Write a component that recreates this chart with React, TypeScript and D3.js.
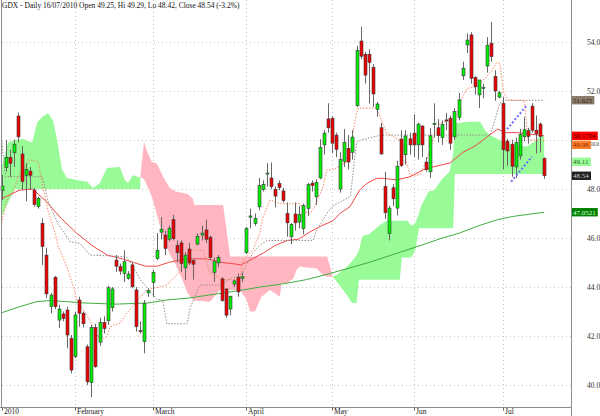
import React from 'react';
import * as d3 from 'd3';

const W = 600;
const H = 416;

// ---- Daily OHLC, GDX, 5 Jan 2010 .. 16 Jul 2010 (bar index 0..133) ----
const openP = [
  47.93, 48.88, 49.29, 49.48, 50.98, 49.43, 48.56, 48.73, 47.96, 47.28,
  46.6, 45.3, 43.2, 44.4, 42.65, 42.9, 43.06, 41.9, 41.16, 43.47,
  42.93, 41.56, 40.1, 42.35, 41.75, 42.55, 42.62, 43.16, 45.1, 44.83,
  44.56, 44.35, 44.9, 43.88, 42.22, 41.77, 43.76, 44.19, 45.16, 46.24,
  46.12, 45.95, 46.75, 45.7, 45.8, 44.78, 45.55, 45.08, 45.75, 46.12,
  46.33, 46.03, 44.6, 44.98, 44.33, 43.92, 43.1, 44.12, 44.4, 44.35,
  45.4, 46.85, 46.6, 47.27, 47.98, 48.62, 48.45, 47.98, 48.22, 47.92,
  47.0, 46.05, 46.98, 46.65, 46.38, 47.2, 48.24, 47.68, 48.45, 49.8,
  50.86, 50.89, 50.2, 48.0, 49.12, 49.66, 49.5, 51.4, 54.04, 53.5,
  53.5, 52.96, 51.25, 50.5, 48.1, 46.18, 48.05, 47.22, 50.04, 49.4,
  50.05, 50.28, 49.8, 50.57, 49.1, 48.7, 50.65, 50.5, 50.1, 50.82,
  50.89, 50.13, 50.92, 52.62, 53.88, 54.29, 52.55, 51.84, 52.1, 53.02,
  53.95, 52.6, 51.75, 51.5, 49.95, 49.83, 48.9, 49.35, 50.13, 50.38,
  51.38, 50.4, 50.65, 49.25,
];
const highP = [
  48.57, 50.0, 49.6, 50.02, 51.12, 49.75, 49.05, 48.9, 48.03, 47.69,
  46.8, 45.6, 43.75, 44.45, 43.27, 43.0, 43.2, 42.04, 43.0, 43.6,
  43.0, 41.65, 42.45, 42.5, 42.75, 42.8, 44.05, 44.0, 45.3, 44.95,
  45.5, 44.65, 45.0, 44.0, 42.6, 43.47, 43.95, 44.7, 46.2, 46.85,
  46.3, 46.5, 46.95, 45.9, 45.9, 45.43, 45.8, 45.15, 46.2, 46.5,
  46.75, 46.1, 45.2, 45.3, 44.4, 43.95, 43.65, 44.3, 44.55, 44.6,
  46.45, 47.2, 47.0, 48.45, 48.35, 49.05, 49.08, 48.1, 48.35, 48.05,
  47.45, 46.6, 47.45, 47.3, 47.4, 48.25, 48.35, 48.4, 50.03, 50.4,
  51.5, 50.97, 50.3, 49.5, 50.45, 50.2, 50.4, 53.85, 54.62, 53.6,
  53.7, 53.1, 51.55, 50.7, 48.7, 47.32, 48.2, 49.15, 50.4, 50.4,
  50.3, 51.05, 50.7, 50.6, 49.3, 50.5, 51.5, 50.85, 50.8, 51.1,
  51.0, 51.3, 51.92, 53.2, 54.35, 54.4, 52.6, 52.45, 52.3, 54.2,
  54.82, 52.85, 52.0, 51.75, 50.05, 50.0, 50.1, 50.45, 50.95, 50.5,
  51.5, 51.0, 50.72, 49.29,
];
const lowP = [
  47.55, 48.71, 48.5, 48.9, 49.9, 47.96, 47.5, 47.96, 47.28, 47.2,
  44.9, 43.55, 42.93, 43.1, 42.32, 42.6, 41.5, 40.48, 41.1, 42.38,
  42.35, 40.0, 39.5, 40.7, 41.6, 42.1, 42.45, 43.0, 44.62, 44.5,
  44.2, 44.3, 43.95, 42.18, 42.1, 41.29, 43.6, 43.6, 45.1, 45.95,
  45.3, 45.85, 45.9, 45.0, 44.62, 44.28, 44.9, 44.3, 45.7, 45.9,
  45.8, 45.1, 44.2, 44.8, 43.4, 42.75, 42.85, 44.0, 43.6, 44.2,
  45.35, 46.4, 46.5, 47.13, 47.9, 48.1, 48.0, 47.25, 47.95, 47.45,
  46.05, 45.75, 46.3, 46.4, 46.15, 46.9, 47.9, 47.35, 48.4, 49.4,
  50.3, 49.46, 49.3, 47.85, 48.9, 48.8, 49.2, 51.35, 53.3, 52.3,
  51.5, 51.35, 50.95, 49.4, 46.78, 45.9, 47.3, 46.92, 48.9, 49.0,
  49.4, 49.3, 49.2, 49.3, 48.7, 48.45, 50.1, 49.9, 49.8, 50.4,
  49.6, 50.0, 50.8, 52.45, 53.55, 52.3, 51.85, 51.3, 51.7, 52.75,
  53.2, 51.6, 51.7, 48.8, 48.95, 48.5, 48.45, 49.2, 49.95, 49.85,
  50.3, 49.45, 49.5, 48.42,
];
const closeP = [
  48.12, 49.29, 49.05, 49.83, 50.13, 48.3, 48.8, 48.56, 47.37, 47.62,
  45.65, 43.72, 43.67, 43.2, 43.1, 42.72, 42.04, 40.61, 42.86, 42.93,
  42.5, 40.13, 42.35, 40.75, 42.55, 42.3, 43.97, 43.92, 44.85, 44.65,
  45.03, 44.53, 44.01, 42.38, 42.2, 43.33, 43.85, 44.6, 45.5, 46.36,
  45.57, 46.4, 45.97, 45.4, 44.96, 45.3, 44.98, 44.93, 46.07, 46.2,
  45.95, 45.2, 45.03, 45.2, 43.45, 42.85, 43.62, 44.25, 43.8, 44.42,
  46.38, 46.9, 46.8, 48.14, 48.18, 48.65, 48.1, 47.71, 48.06, 47.53,
  46.62, 46.55, 46.62, 46.96, 47.32, 48.18, 48.14, 48.27, 49.7, 50.28,
  50.5, 49.87, 49.62, 49.2, 49.9, 49.1, 50.12, 53.65, 53.42, 52.65,
  53.16, 51.88, 51.47, 49.43, 47.03, 47.22, 47.6, 48.93, 48.96, 50.16,
  49.8, 49.8, 50.65, 49.8, 48.8, 50.17, 50.68, 50.18, 50.63, 50.78,
  49.87, 51.16, 51.64, 52.93, 54.08, 52.52, 52.17, 52.45, 52.15, 53.87,
  53.4, 52.0, 51.93, 49.6, 49.55, 48.93, 49.9, 50.22, 50.42, 50.15,
  50.4, 50.25, 50.15, 48.54,
];

// ---- Ichimoku cloud (bar index, upper, lower) ----
const cloud1Idx = [0, 1.6, 3.3, 5.2, 7.5, 8.7, 9.9, 11.4, 12.6, 13.6, 14.8, 16, 18.5, 21, 22.4, 24.1, 25.8, 29, 30.2, 31, 32.2, 33.4, 34];
const cloud1Top = [48.9, 49.9, 50.0, 50.04, 49.9, 50.7, 50.94, 51.1, 50.8, 50.0, 48.8, 48.45, 48.37, 48.3, 48.04, 48.24, 48.86, 48.9, 48.37, 48.24, 48.57, 48.49, 48.5];
const cloud1Bot = [46.87, 47.45, 48.0, 48.0, 48.0, 48.0, 48.0, 48.0, 48.0, 48.0, 48.0, 48.0, 48.0, 48.0, 48.0, 48.0, 48.0, 48.0, 48.0, 48.0, 48.0, 48.0, 48.0];

const cloud2Idx = [34, 34.9, 35.5, 36.8, 38, 39.6, 41.2, 42.7, 44.2, 45.6, 46.9, 47.2, 51.1, 53.5, 54.3, 55, 56, 58.4, 60.1, 60.9, 62.1, 63.7, 65.8, 68.2, 68.6, 69.9, 71.5, 72.3, 73.1, 77.2, 78.8, 79.8, 81.2];
const cloud2Top = [48.5, 49.93, 49.6, 49.1, 49.05, 48.5, 48.04, 47.9, 47.85, 47.8, 47.6, 47.35, 47.35, 47.35, 47.35, 46.5, 45.24, 45.24, 45.24, 45.24, 45.24, 45.24, 45.24, 45.24, 45.24, 45.24, 45.24, 45.24, 45.24, 45.24, 45.24, 45.24, 44.42];
const cloud2Bot = [48.5, 48.4, 48.2, 47.7, 47.0, 46.0, 45.35, 44.9, 44.35, 43.74, 43.47, 43.45, 43.4, 43.88, 43.88, 43.88, 43.88, 43.88, 43.47, 43.0, 43.0, 43.6, 43.88, 43.6, 44.15, 44.15, 44.35, 44.7, 44.83, 44.76, 44.49, 44.42, 44.42];

const cloud3Idx = [81.2, 82.2, 84.5, 85.9, 87.0, 87.6, 88.3, 88.7, 90.1, 92.5, 94.3, 97.6, 98.1, 99.5, 100.4, 101.4, 102.3, 102.8, 104.7, 106.1, 107.9, 109.8, 110.7, 111.1, 114.8, 117.3, 118.5, 119.7, 122, 125, 128.7, 131.2, 131.9, 133];
const cloud3Top = [44.42, 44.5, 44.8, 45.05, 45.3, 45.5, 46.0, 46.1, 46.15, 46.5, 46.7, 46.7, 46.7, 46.7, 46.5, 46.6, 47.0, 47.3, 47.9, 47.95, 48.4, 48.7, 49.45, 50.68, 50.75, 50.75, 50.4, 50.2, 50.0, 49.8, 49.73, 50.0, 50.13, 50.15];
const cloud3Bot = [44.42, 44.2, 43.7, 43.35, 43.35, 44.3, 44.3, 44.3, 44.3, 44.3, 44.3, 44.3, 45.2, 45.2, 45.2, 45.5, 46.4, 46.4, 46.4, 46.4, 46.4, 46.4, 46.4, 48.61, 48.61, 48.61, 48.61, 48.61, 48.61, 48.61, 48.61, 48.61, 48.61, 48.61];

// ---- Moving averages (bar index, value) ----
const redMaIdx = [0, 4.3, 7.6, 10.9, 14.6, 18.4, 22.1, 25.9, 29.6, 32.4, 35.3, 38.1, 40.9, 43.7, 46.5, 50.3, 54, 56.8, 58.7, 61.5, 64.3, 67.1, 70, 72.8, 75.6, 78.4, 81.2, 82.9, 85.4, 87.8, 89.5, 91.9, 93.5, 96.8, 100.1, 103.3, 105.7, 109.9, 113.1, 116, 118.8, 121.6, 123.4, 126.3, 129.1, 133];
const redMaVal = [47.6, 47.95, 48.0, 47.5, 46.8, 46.2, 45.7, 45.3, 45.15, 45.0, 44.85, 44.85, 45.0, 45.1, 45.15, 45.15, 45.0, 44.95, 44.9, 45.15, 45.4, 45.7, 45.9, 45.95, 46.25, 46.5, 46.7, 47.0, 47.28, 47.96, 48.23, 48.43, 48.44, 48.37, 48.5, 48.78, 48.9, 49.06, 49.5, 49.75, 50.1, 50.45, 50.3, 50.3, 50.25, 50.17];
const greenMaIdx = [0, 4.5, 8.6, 12, 16, 20, 28, 36, 40.5, 45.4, 52, 58, 63.4, 69, 74.7, 80.3, 90, 102.8, 107.5, 112.2, 116.9, 121.6, 125.3, 133];
const greenMaVal = [42.95, 43.2, 43.4, 43.45, 43.4, 43.35, 43.3, 43.35, 43.47, 43.54, 43.7, 43.85, 44.0, 44.13, 44.3, 44.54, 45.0, 45.7, 45.97, 46.2, 46.5, 46.75, 46.88, 47.05];

// ---- Tenkan / Kijun (dotted) ----
const tenkanIdx = [0, 1.2, 2.9, 4.1, 6.9, 9, 10.2, 11.4, 13.1, 13.9, 16, 17.6, 18.4, 20, 20.9, 23.3, 24.1, 25.8, 26.6, 29, 30.7, 33, 35.6, 40.5, 43.5, 45, 46.5, 49.4, 51, 54.3, 58.4, 59.2, 61.6, 63.3, 64.1, 65.8, 68.2, 73.1, 74.4, 75.6, 76.5, 78.8, 79.7, 81.2, 85.4, 86.2, 87, 87.4, 91.9, 94.4, 95.2, 97.6, 98.4, 99.3, 100.1, 102.5, 103.3, 104.2, 105.7, 107.5, 109.9, 111.5, 112.3, 114, 116.5, 120, 121.3, 122.1, 122.6, 123, 124, 128.2, 129, 133];
const tenkanVal = [46.6, 47.5, 47.9, 48.5, 49.2, 49.1, 48.0, 47.1, 46.2, 45.65, 44.83, 44.0, 43.47, 43.06, 42.86, 42.1, 41.84, 41.97, 42.38, 42.52, 42.93, 43.4, 43.88, 44.08, 44.6, 45.3, 45.5, 45.5, 44.6, 44.3, 44.3, 45.1, 45.5, 46.2, 46.86, 47.55, 47.4, 47.4, 47.06, 47.0, 47.2, 48.08, 48.78, 48.78, 49.18, 50.4, 51.1, 51.3, 51.3, 50.27, 50.2, 50.0, 49.73, 49.05, 48.57, 48.57, 48.86, 49.18, 50.0, 50.7, 50.8, 50.95, 51.5, 52.1, 52.18, 52.79, 53.16, 53.13, 52.52, 51.97, 51.63, 51.6, 50.0, 49.98];
const kijunIdx = [0, 1, 10, 11.4, 13.9, 16.8, 19.2, 21.7, 30.5, 32, 34, 36, 38, 39.5, 40.5, 45.5, 46.2, 48.6, 53.5, 56.7, 58.4, 59.7, 61.6, 63.3, 65.1, 76.3, 77.3, 79.7, 81.2, 85.5, 87, 88, 93, 119.7, 120.9, 122.1, 123, 133];
const kijunVal = [50.0, 48.5, 48.5, 47.5, 46.55, 45.85, 45.78, 45.3, 45.24, 44.9, 44.3, 43.9, 43.5, 43.47, 42.5, 42.5, 43.14, 44.08, 44.08, 44.4, 44.4, 44.8, 45.4, 45.7, 45.9, 45.9, 46.33, 47.0, 47.3, 47.7, 49.9, 50.0, 50.2, 50.2, 50.8, 51.5, 51.62, 51.62];

// ---- Drawn channel (blue dashed) ----
const channelUpper = [[123.9, 50.44], [128.8, 51.43]];
const channelLower = [[124.9, 48.3], [130.0, 49.32]];

// ---- Axes ----
const monthIdx = [0, 18, 37, 60, 81, 101, 123];
const monthLabels = ['2010', 'February', 'March', 'April', 'May', 'Jun', 'Jul'];
const priceTicks = [40, 42, 44, 46, 48, 50, 52, 54];

const lastLabels = [
  { v: 51.625, text: '51.625', bg: '#8b7d6b', fg: '#2a2218' },
  { v: 50.1704, text: '50.1704', bg: '#ff0000', fg: '#500000' },
  { v: 49.98, text: '49.98', bg: '#ff7f2a', fg: '#8a2a00' },
  { v: 49.11, text: '49.11', bg: '#98fb98', fg: '#2a6a2a' },
  { v: 48.54, text: '48.54', bg: '#202020', fg: '#cfcfcf' },
  { v: 47.0521, text: '47.0521', bg: '#008000', fg: '#d8ffd8' },
];

const title = 'GDX - Daily 16/07/2010 Open 49.25, Hi 49.29, Lo 48.42, Close 48.54 (-3.2%)';

const FONT = "'Liberation Serif', 'Times New Roman', serif";

export default function App() {
  const x = d3.scaleLinear().domain([0, 133]).range([1.6, 544.2]);
  const y = d3.scaleLinear().domain([40, 54]).range([385, 42]);
  const axisX = 571.5;
  const axisY = 407.5;

  const areaOf = (idx: number[], top: number[], bot: number[]) =>
    d3.area<number>()
      .x((_, k) => x(idx[k]))
      .y0((_, k) => y(bot[k]))
      .y1((_, k) => y(top[k]))(idx) || '';

  const lineOf = (idx: number[], val: number[]) =>
    d3.line<number>().x((_, k) => x(idx[k])).y((_, k) => y(val[k]))(idx) || '';

  const pairLine = (pts: number[][]) =>
    d3.line<number[]>().x((p) => x(p[0])).y((p) => y(p[1]))(pts) || '';

  const boxH = 8.4;
  const boxes: { cy: number; l: typeof lastLabels[0] }[] = [];
  let prevBottom = -Infinity;
  lastLabels.forEach((l) => {
    let cy = y(l.v);
    if (cy - boxH / 2 < prevBottom + 0.6) cy = prevBottom + 0.6 + boxH / 2;
    prevBottom = cy + boxH / 2;
    boxes.push({ cy, l });
  });

  return (
    <svg width={W} height={H} style={{ position: 'absolute', left: 0, top: 0, background: '#fff' }}
      fontFamily={FONT}>
      <rect x={0} y={0} width={W} height={H} fill="#fff" />
      {priceTicks.map((t) => (
        <line key={'h' + t} x1={2} x2={axisX} y1={Math.round(y(t)) + 0.5} y2={Math.round(y(t)) + 0.5}
          stroke="#c4c4c4" strokeWidth={1} strokeDasharray="1 3" />
      ))}
      {monthIdx.slice(1).map((m) => (
        <line key={'v' + m} x1={Math.round(x(m)) + 0.5} x2={Math.round(x(m)) + 0.5} y1={0} y2={axisY}
          stroke="#c4c4c4" strokeWidth={1} strokeDasharray="1 3" />
      ))}

      <path d={areaOf(cloud1Idx, cloud1Top, cloud1Bot)} fill="#98fb98" />
      <path d={areaOf(cloud2Idx, cloud2Top, cloud2Bot)} fill="#ffb6c1" />
      <path d={areaOf(cloud3Idx, cloud3Top, cloud3Bot)} fill="#98fb98" />

      <path d={lineOf(greenMaIdx, greenMaVal)} fill="none" stroke="#3fae3f" strokeWidth={1} />
      <path d={lineOf(redMaIdx, redMaVal)} fill="none" stroke="#f04848" strokeWidth={1} />

      <path d={lineOf(kijunIdx, kijunVal)} fill="none" stroke="#9a8f86" strokeWidth={1} strokeDasharray="1.5 1.5" />
      <path d={lineOf(tenkanIdx, tenkanVal)} fill="none" stroke="#f58a64" strokeWidth={1} strokeDasharray="1.5 1.5" />

      {closeP.map((c, i) => {
        const o = openP[i];
        const cx = Math.round(x(i)) + 0.5;
        const up = c >= o;
        const top = y(Math.max(o, c));
        const bot = y(Math.min(o, c));
        return (
          <g key={'c' + i}>
            <line x1={cx} x2={cx} y1={y(highP[i])} y2={y(lowP[i])} stroke="#666" strokeWidth={1} />
            <rect x={cx - 1.5} y={top} width={3} height={Math.max(1, bot - top)}
              fill={up ? '#00ee00' : '#ee0000'} stroke="#3a3a3a" strokeWidth={0.6} />
          </g>
        );
      })}

      <path d={pairLine(channelUpper)} stroke="#6a6aff" strokeWidth={2} strokeDasharray="2 2" fill="none" />
      <path d={pairLine(channelLower)} stroke="#6a6aff" strokeWidth={2} strokeDasharray="2 2" fill="none" />

      <line x1={1.5} x2={1.5} y1={0} y2={axisY} stroke="#8c8c8c" strokeWidth={1} />
      <line x1={0} x2={axisX} y1={axisY} y2={axisY} stroke="#8c8c8c" strokeWidth={1} />
      <line x1={axisX} x2={axisX} y1={0} y2={H} stroke="#8c8c8c" strokeWidth={1} />

      {monthIdx.map((m, k) => {
        const tx = k === 0 ? 2.5 : Math.round(x(m)) + 0.5;
        return (
          <g key={'m' + m}>
            <line x1={tx} x2={tx} y1={axisY} y2={axisY + 3} stroke="#666" />
            <text x={tx + 1.5} y={413.5} fontSize={7.5} fill="#222">{monthLabels[k]}</text>
          </g>
        );
      })}

      {priceTicks.map((t) => (
        t === 50 ? (
          <text key={'t' + t} x={599} y={y(t) + 5.8} fontSize={5.5} textAnchor="end" fill="#333">{t.toFixed(1)}</text>
        ) : (
          <text key={'t' + t} x={587} y={y(t) + 2.7} fontSize={7.5} fill="#333">{t.toFixed(1)}</text>
        )
      ))}

      {boxes.map(({ cy, l }) => {
        const w = l.text.length * 3.4 + 2;
        return (
          <g key={'b' + l.text}>
            <rect x={axisX + 0.5} y={cy - boxH / 2} width={w} height={boxH} fill={l.bg} />
            <text x={axisX + 1.5} y={cy + 2.4} fontSize={7} fill={l.fg}>{l.text}</text>
          </g>
        );
      })}

      <text x={2} y={8} fontSize={7.5} fill="#111">{title}</text>
    </svg>
  );
}
